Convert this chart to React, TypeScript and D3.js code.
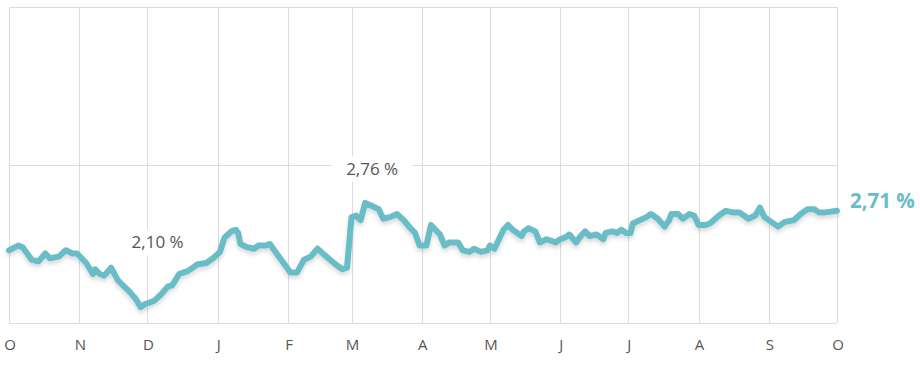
import React, { useEffect, useRef } from "react";
import * as d3 from "d3";

const dates = [
  "2018-10-01", "2018-10-05", "2018-10-07", "2018-10-11", "2018-10-14", "2018-10-17", "2018-10-19",
  "2018-10-23", "2018-10-26", "2018-10-29", "2018-10-31", "2018-11-04", "2018-11-07", "2018-11-08",
  "2018-11-10", "2018-11-12", "2018-11-15", "2018-11-18", "2018-11-23", "2018-11-26", "2018-11-28",
  "2018-11-30", "2018-12-04", "2018-12-07", "2018-12-10", "2018-12-12", "2018-12-15", "2018-12-19",
  "2018-12-23", "2018-12-27", "2018-12-30", "2019-01-02", "2019-01-04", "2019-01-07", "2019-01-09",
  "2019-01-10", "2019-01-11", "2019-01-14", "2019-01-17", "2019-01-19", "2019-01-22", "2019-01-24",
  "2019-01-25", "2019-01-28", "2019-01-31", "2019-02-02", "2019-02-05", "2019-02-08", "2019-02-11",
  "2019-02-14", "2019-02-18", "2019-02-22", "2019-02-25", "2019-02-27", "2019-03-01", "2019-03-03",
  "2019-03-05", "2019-03-07", "2019-03-10", "2019-03-13", "2019-03-15", "2019-03-18", "2019-03-21",
  "2019-03-24", "2019-03-27", "2019-03-29", "2019-03-31", "2019-04-03", "2019-04-05", "2019-04-07",
  "2019-04-09", "2019-04-11", "2019-04-13", "2019-04-17", "2019-04-19", "2019-04-22", "2019-04-24",
  "2019-04-27", "2019-04-30", "2019-05-01", "2019-05-03", "2019-05-05", "2019-05-07", "2019-05-09",
  "2019-05-11", "2019-05-15", "2019-05-16", "2019-05-18", "2019-05-21", "2019-05-23", "2019-05-26",
  "2019-05-30", "2019-06-01", "2019-06-03", "2019-06-05", "2019-06-08", "2019-06-10", "2019-06-12",
  "2019-06-14", "2019-06-17", "2019-06-20", "2019-06-21", "2019-06-24", "2019-06-26", "2019-06-28",
  "2019-06-30", "2019-07-02", "2019-07-03", "2019-07-06", "2019-07-09", "2019-07-11", "2019-07-14",
  "2019-07-17", "2019-07-19", "2019-07-20", "2019-07-23", "2019-07-25", "2019-07-28", "2019-07-30",
  "2019-08-01", "2019-08-04", "2019-08-06", "2019-08-10", "2019-08-13", "2019-08-16", "2019-08-19",
  "2019-08-23", "2019-08-26", "2019-08-28", "2019-08-30", "2019-09-02", "2019-09-05", "2019-09-08",
  "2019-09-12", "2019-09-15", "2019-09-18", "2019-09-21", "2019-09-23", "2019-09-26", "2019-10-01",
];

const rates = [
  2.46, 2.49, 2.48, 2.4, 2.39, 2.44, 2.41,
  2.42, 2.46, 2.44, 2.44, 2.38, 2.31, 2.34,
  2.31, 2.3, 2.35, 2.27, 2.2, 2.15, 2.1,
  2.12, 2.14, 2.18, 2.23, 2.24, 2.31, 2.33,
  2.37, 2.38, 2.41, 2.45, 2.54, 2.58, 2.59,
  2.57, 2.5, 2.48, 2.47, 2.49, 2.49, 2.5,
  2.48, 2.42, 2.36, 2.32, 2.32, 2.4, 2.42,
  2.47, 2.42, 2.37, 2.34, 2.35, 2.67, 2.68,
  2.65, 2.76, 2.74, 2.72, 2.66, 2.67, 2.69,
  2.65, 2.6, 2.57, 2.49, 2.49, 2.62, 2.59,
  2.56, 2.49, 2.51, 2.51, 2.46, 2.45, 2.47,
  2.45, 2.46, 2.49, 2.47, 2.53, 2.59, 2.62,
  2.59, 2.55, 2.58, 2.6, 2.58, 2.51, 2.53,
  2.51, 2.53, 2.54, 2.56, 2.51, 2.55, 2.58,
  2.55, 2.56, 2.53, 2.57, 2.58, 2.57, 2.59,
  2.57, 2.57, 2.63, 2.65, 2.67, 2.69, 2.66,
  2.61, 2.65, 2.69, 2.69, 2.66, 2.69, 2.68,
  2.62, 2.62, 2.63, 2.68, 2.71, 2.7, 2.7,
  2.66, 2.68, 2.73, 2.67, 2.64, 2.61, 2.64,
  2.65, 2.69, 2.72, 2.72, 2.7, 2.7, 2.71,
];

const monthLabels = ["O", "N", "D", "J", "F", "M", "A", "M", "J", "J", "A", "S", "O"];
const yTicks = [2, 3, 4];

const fmt = (v: number) => v.toFixed(2).replace(".", ",") + " %";

export default function App() {
  const ref = useRef<SVGSVGElement>(null);

  useEffect(() => {
    const width = 920;
    const height = 365;
    const margin = { top: 7, right: 83, bottom: 42, left: 9 };
    const color = "#68bdc6";

    const data = dates.map((d, i) => ({ date: new Date(d + "T00:00:00"), value: rates[i] }));

    const svg = d3.select(ref.current);
    svg.selectAll("*").remove();

    const x = d3
      .scaleTime()
      .domain([new Date("2018-10-01T00:00:00"), new Date("2019-10-01T00:00:00")])
      .range([margin.left, width - margin.right]);

    const y = d3
      .scaleLinear()
      .domain([2, 4])
      .range([height - margin.bottom, margin.top]);

    const defs = svg.append("defs");
    const f = defs
      .append("filter")
      .attr("id", "shadow")
      .attr("x", "-10%")
      .attr("y", "-50%")
      .attr("width", "120%")
      .attr("height", "200%");
    f.append("feDropShadow")
      .attr("dx", 0)
      .attr("dy", 3)
      .attr("stdDeviation", 2)
      .attr("flood-color", "#000")
      .attr("flood-opacity", 0.15);

    // grid
    const monthTicks = x.ticks(d3.timeMonth.every(1));
    svg
      .append("g")
      .selectAll("line")
      .data(monthTicks)
      .join("line")
      .attr("x1", (d) => Math.round(x(d)) + 0.5)
      .attr("x2", (d) => Math.round(x(d)) + 0.5)
      .attr("y1", y(4))
      .attr("y2", y(2))
      .attr("stroke", "#dcdcdc");

    svg
      .append("g")
      .selectAll("line")
      .data(yTicks)
      .join("line")
      .attr("x1", margin.left)
      .attr("x2", width - margin.right)
      .attr("y1", (d) => Math.round(y(d)) + 0.5)
      .attr("y2", (d) => Math.round(y(d)) + 0.5)
      .attr("stroke", "#dcdcdc");

    // month labels
    svg
      .append("g")
      .selectAll("text")
      .data(monthTicks)
      .join("text")
      .attr("x", (d) => x(d) + 1)
      .attr("y", height - 15)
      .attr("text-anchor", "middle")
      .attr("font-family", "'Open Sans', sans-serif")
      .attr("font-size", 15)
      .attr("fill", "#555")
      .text((d, i) => monthLabels[i]);

    // min / max annotations
    const minP = data.reduce((a, b) => (b.value < a.value ? b : a));
    const maxP = data.reduce((a, b) => (b.value > a.value ? b : a));
    const notes = [
      { p: minP, dx: 17, dy: -65 },
      { p: maxP, dx: 7, dy: -34 },
    ];
    const ng = svg.append("g");
    notes.forEach(({ p, dx, dy }) => {
      const cx = x(p.date) + dx;
      const cy = y(p.value) + dy;
      ng.append("rect")
        .attr("x", cx - 40)
        .attr("y", cy - 13)
        .attr("width", 80)
        .attr("height", 26)
        .attr("fill", "#fff");
      ng.append("text")
        .attr("x", cx)
        .attr("y", cy)
        .attr("dy", "0.35em")
        .attr("text-anchor", "middle")
        .attr("font-family", "'Open Sans', sans-serif")
        .attr("font-size", 17)
        .attr("fill", "#555")
        .text(fmt(p.value));
    });

    // line
    const line = d3
      .line<{ date: Date; value: number }>()
      .x((d) => x(d.date))
      .y((d) => y(d.value));

    svg
      .append("path")
      .datum(data)
      .attr("d", line)
      .attr("fill", "none")
      .attr("stroke", color)
      .attr("stroke-width", 6)
      .attr("stroke-linejoin", "round")
      .attr("stroke-linecap", "round")
      .attr("filter", "url(#shadow)");

    // last value
    const last = data[data.length - 1];
    svg
      .append("text")
      .attr("x", x(last.date) + 13)
      .attr("y", y(last.value) - 10)
      .attr("dy", "0.35em")
      .attr("font-family", "'Open Sans', sans-serif")
      .attr("font-size", 20.5)
      .attr("font-weight", "bold")
      .attr("fill", color)
      .text(fmt(last.value));
  }, []);

  return (
    <svg
      ref={ref}
      width={920}
      height={365}
      style={{ position: "absolute", left: 0, top: 0, background: "#fff" }}
    />
  );
}
